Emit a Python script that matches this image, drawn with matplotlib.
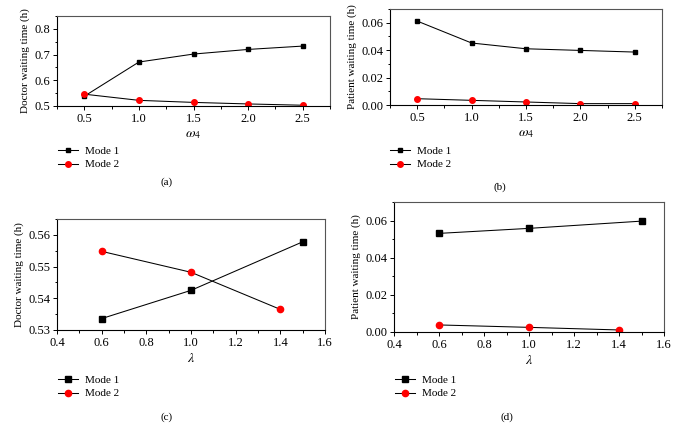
import numpy as np
import matplotlib.pyplot as plt
from matplotlib.ticker import MultipleLocator

plt.rcParams['font.family'] = ['Liberation Serif', 'DejaVu Serif']
plt.rcParams['mathtext.fontset'] = 'stix'

# values
w4 = [0.5, 1.0, 1.5, 2.0, 2.5]
doc_w_mode1 = [0.538, 0.671, 0.702, 0.720, 0.733]
doc_w_mode2 = [0.546, 0.522, 0.514, 0.508, 0.503]
pat_w_mode1 = [0.0612, 0.0452, 0.0410, 0.0398, 0.0386]
pat_w_mode2 = [0.0046, 0.0034, 0.0022, 0.0010, 0.0010]

lam_mode1 = [0.6, 1.0, 1.5]
lam_mode2 = [0.6, 1.0, 1.4]
doc_l_mode1 = [0.5336, 0.5425, 0.5578]
doc_l_mode2 = [0.5548, 0.5482, 0.5365]
pat_l_mode1 = [0.0531, 0.0558, 0.0597]
pat_l_mode2 = [0.0038, 0.0025, 0.0011]

W, H = 677, 438
fig = plt.figure(figsize=(W / 100, H / 100), dpi=100)


def box(l, r, t, b):
    return [l / W, 1 - b / H, (r - l) / W, (b - t) / H]


def style(ax):
    for s in ['top', 'right']:
        ax.spines[s].set_color('#555555')
    for s in ['left', 'bottom']:
        ax.spines[s].set_color('black')
    for s in ax.spines.values():
        s.set_linewidth(0.8)
    ax.tick_params(which='both', direction='out', top=False, right=False,
                   labelsize=9, width=0.7, pad=2)
    ax.tick_params(which='major', length=3)
    ax.tick_params(which='minor', length=1.8)


def draw(ax, x1, y1, x2, y2, sq, ci):
    ax.plot(x1, y1, color='black', marker='s', markersize=sq, lw=0.75, label='Mode 1')
    ax.plot(x2, y2, color='black', marker='o', markersize=ci, lw=0.75,
            markerfacecolor='red', markeredgecolor='red', label='Mode 2')


def legend(ax, x, y):
    h, l = ax.get_legend_handles_labels()
    fig.legend(h, l, loc='upper left', bbox_to_anchor=(x / W, 1 - y / H),
               frameon=False, fontsize=8, handlelength=1.8, handletextpad=0.6,
               labelspacing=0.35, borderpad=0, borderaxespad=0)


# (a)
ax = fig.add_axes(box(57, 330, 16, 106))
draw(ax, w4, doc_w_mode1, w4, doc_w_mode2, 3.5, 4)
ax.set_xlim(0.25, 2.75)
ax.set_ylim(0.5, 0.85)
ax.set_xticks(w4)
ax.xaxis.set_minor_locator(MultipleLocator(0.25))
ax.yaxis.set_major_locator(MultipleLocator(0.1))
ax.yaxis.set_minor_locator(MultipleLocator(0.05))
style(ax)
ax.set_xlabel(r'$\omega_4$', fontsize=10, labelpad=2)
ax.set_ylabel('Doctor waiting time (h)', fontsize=8, labelpad=3)
legend(ax, 58, 146)
fig.text(167 / W, 1 - 182 / H, '(a)', ha='center', va='center', fontsize=8)

# (b)
ax = fig.add_axes(box(390, 662, 9, 105))
draw(ax, w4, pat_w_mode1, w4, pat_w_mode2, 3.5, 4)
ax.set_xlim(0.25, 2.75)
ax.set_ylim(0, 0.07)
ax.set_xticks(w4)
ax.xaxis.set_minor_locator(MultipleLocator(0.25))
ax.yaxis.set_major_locator(MultipleLocator(0.02))
ax.yaxis.set_minor_locator(MultipleLocator(0.01))
ax.yaxis.set_major_formatter(plt.FormatStrFormatter('%.2f'))
style(ax)
ax.set_xlabel(r'$\omega_4$', fontsize=10, labelpad=2)
ax.set_ylabel('Patient waiting time (h)', fontsize=8, labelpad=3)
legend(ax, 390, 146)
fig.text(500 / W, 1 - 187 / H, '(b)', ha='center', va='center', fontsize=8)

# (c)
ax = fig.add_axes(box(57, 325, 219, 330))
draw(ax, lam_mode1, doc_l_mode1, lam_mode2, doc_l_mode2, 4.3, 4.5)
ax.set_xlim(0.4, 1.6)
ax.set_ylim(0.53, 0.565)
ax.xaxis.set_major_locator(MultipleLocator(0.2))
ax.xaxis.set_minor_locator(MultipleLocator(0.1))
ax.yaxis.set_major_locator(MultipleLocator(0.01))
ax.yaxis.set_minor_locator(MultipleLocator(0.005))
ax.xaxis.set_major_formatter(plt.FormatStrFormatter('%.1f'))
ax.yaxis.set_major_formatter(plt.FormatStrFormatter('%.2f'))
style(ax)
ax.set_xlabel(r'$\lambda$', fontsize=10, labelpad=2)
ax.set_ylabel('Doctor waiting time (h)', fontsize=8, labelpad=3)
legend(ax, 58, 375)
fig.text(167 / W, 1 - 417 / H, '(c)', ha='center', va='center', fontsize=8)

# (d)
ax = fig.add_axes(box(394, 664, 202, 332))
draw(ax, lam_mode1, pat_l_mode1, lam_mode2, pat_l_mode2, 4.3, 4.5)
ax.set_xlim(0.4, 1.6)
ax.set_ylim(0, 0.07)
ax.xaxis.set_major_locator(MultipleLocator(0.2))
ax.xaxis.set_minor_locator(MultipleLocator(0.1))
ax.yaxis.set_major_locator(MultipleLocator(0.02))
ax.yaxis.set_minor_locator(MultipleLocator(0.01))
ax.xaxis.set_major_formatter(plt.FormatStrFormatter('%.1f'))
ax.yaxis.set_major_formatter(plt.FormatStrFormatter('%.2f'))
style(ax)
ax.set_xlabel(r'$\lambda$', fontsize=10, labelpad=2)
ax.set_ylabel('Patient waiting time (h)', fontsize=8, labelpad=3)
legend(ax, 395, 375)
fig.text(507 / W, 1 - 417 / H, '(d)', ha='center', va='center', fontsize=8)

fig.savefig('out.png', dpi=100)
